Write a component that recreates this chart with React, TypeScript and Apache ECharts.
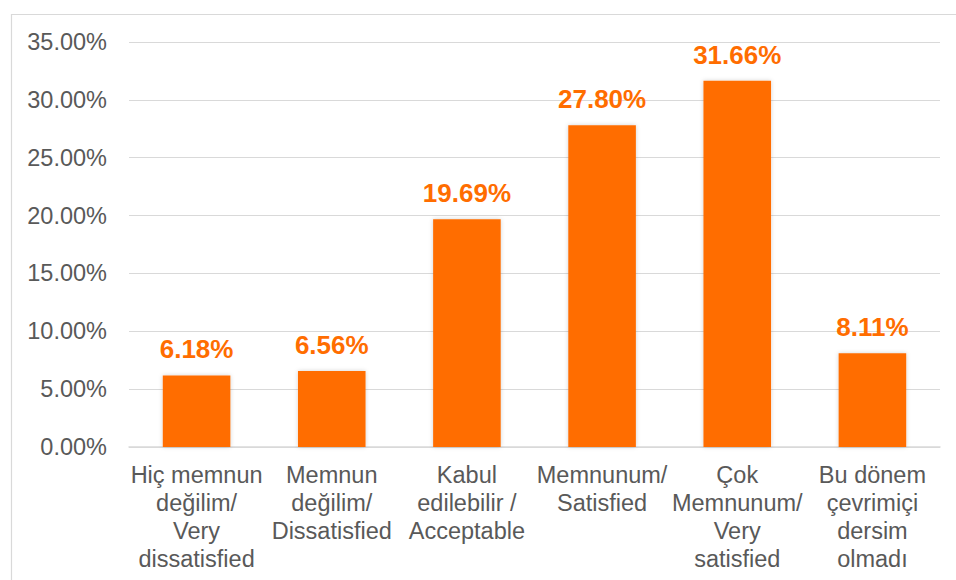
import React, { useEffect, useRef } from "react";
import * as echarts from "echarts";

const categories: string[] = [
  "Hiç memnun\ndeğilim/\nVery\ndissatisfied",
  "Memnun\ndeğilim/\nDissatisfied",
  "Kabul\nedilebilir /\nAcceptable",
  "Memnunum/\nSatisfied",
  "Çok\nMemnunum/\nVery\nsatisfied",
  "Bu dönem\nçevrimiçi\ndersim\nolmadı",
];
const values: number[] = [6.18, 6.56, 19.69, 27.8, 31.66, 8.11];

const ORANGE = "#FF6D00";
const FONT = "Liberation Sans, Arial, sans-serif";

export default function App() {
  const ref = useRef<HTMLDivElement>(null);
  useEffect(() => {
    if (!ref.current) return;
    const chart = echarts.init(ref.current, undefined, { renderer: "svg" });
    chart.setOption({
      animation: false,
      backgroundColor: "#ffffff",
      graphic: [
        {
          type: "rect",
          left: 9,
          top: 12,
          shape: { width: 960, height: 600 },
          style: { fill: "none", stroke: "#d9d9d9", lineWidth: 1.2 },
          silent: true,
        },
      ],
      grid: { left: 129, right: 16, top: 42, bottom: 133, containLabel: false },
      xAxis: {
        type: "category",
        data: categories,
        axisTick: { show: false },
        axisLine: { lineStyle: { color: "#d9d9d9", width: 1.5 } },
        axisLabel: {
          color: "#595959",
          fontSize: 23.5,
          fontFamily: FONT,
          lineHeight: 28,
          margin: 14,
          interval: 0,
          align: "center",
        },
      },
      yAxis: {
        type: "value",
        min: 0,
        max: 35,
        interval: 5,
        axisLine: { show: false },
        axisTick: { show: false },
        splitLine: { lineStyle: { color: "#d9d9d9", width: 1.2 } },
        axisLabel: {
          color: "#595959",
          fontSize: 23.5,
          fontFamily: FONT,
          margin: 22,
          formatter: (v: number) => v.toFixed(2) + "%",
        },
      },
      series: [
        {
          type: "bar",
          data: values,
          barWidth: "50%",
          itemStyle: {
            color: ORANGE,
            shadowBlur: 4,
            shadowColor: "rgba(0,0,0,0.18)",
            shadowOffsetX: 0,
            shadowOffsetY: 0,
          },
          label: {
            show: true,
            position: "top",
            distance: 13,
            color: ORANGE,
            fontSize: 26,
            fontWeight: "bold",
            fontFamily: FONT,
            formatter: (p: any) => Number(p.value).toFixed(2) + "%",
          },
        },
      ],
    });
    return () => chart.dispose();
  }, []);
  return (
    <div
      ref={ref}
      style={{ position: "absolute", left: 0, top: 0, width: 956, height: 580 }}
    />
  );
}
